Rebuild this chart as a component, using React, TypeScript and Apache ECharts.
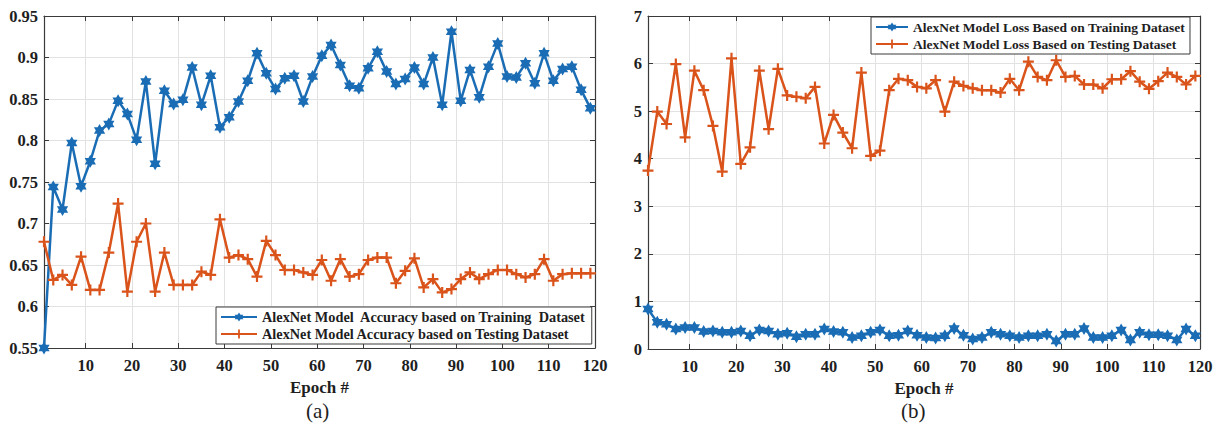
import React, { useEffect, useRef } from "react";
import * as echarts from "echarts";

const epochs = [1, 3, 5, 7, 9, 11, 13, 15, 17, 19, 21, 23, 25, 27, 29, 31, 33, 35, 37, 39, 41, 43, 45, 47, 49, 51, 53, 55, 57, 59, 61, 63, 65, 67, 69, 71, 73, 75, 77, 79, 81, 83, 85, 87, 89, 91, 93, 95, 97, 99, 101, 103, 105, 107, 109, 111, 113, 115, 117, 119];

const accTrain = [0.55, 0.744, 0.717, 0.797, 0.745, 0.775, 0.812, 0.82, 0.848, 0.832, 0.801, 0.871, 0.772, 0.86, 0.844, 0.849, 0.888, 0.843, 0.878, 0.816, 0.828, 0.847, 0.872, 0.905, 0.881, 0.862, 0.875, 0.878, 0.847, 0.877, 0.902, 0.915, 0.891, 0.866, 0.863, 0.887, 0.907, 0.883, 0.868, 0.874, 0.888, 0.868, 0.9, 0.843, 0.931, 0.848, 0.885, 0.852, 0.889, 0.917, 0.877, 0.876, 0.893, 0.869, 0.905, 0.872, 0.886, 0.889, 0.861, 0.839];

const accTest = [0.678, 0.632, 0.638, 0.626, 0.66, 0.62, 0.62, 0.665, 0.724, 0.618, 0.678, 0.7, 0.618, 0.665, 0.626, 0.626, 0.626, 0.642, 0.638, 0.705, 0.659, 0.662, 0.657, 0.636, 0.679, 0.662, 0.644, 0.644, 0.641, 0.638, 0.656, 0.631, 0.657, 0.636, 0.639, 0.656, 0.659, 0.659, 0.628, 0.643, 0.658, 0.623, 0.633, 0.617, 0.621, 0.633, 0.641, 0.633, 0.639, 0.644, 0.644, 0.639, 0.635, 0.639, 0.657, 0.631, 0.639, 0.64, 0.64, 0.64];

const lossTrain = [0.84, 0.56, 0.52, 0.42, 0.45, 0.45, 0.37, 0.38, 0.35, 0.35, 0.38, 0.28, 0.4, 0.38, 0.31, 0.33, 0.26, 0.31, 0.31, 0.42, 0.37, 0.35, 0.24, 0.28, 0.35, 0.4, 0.28, 0.29, 0.38, 0.29, 0.24, 0.23, 0.28, 0.43, 0.29, 0.21, 0.24, 0.35, 0.31, 0.28, 0.24, 0.28, 0.28, 0.31, 0.17, 0.31, 0.31, 0.43, 0.24, 0.24, 0.28, 0.4, 0.19, 0.35, 0.3, 0.3, 0.28, 0.19, 0.42, 0.28];

const lossTest = [3.75, 4.99, 4.73, 5.99, 4.45, 5.85, 5.44, 4.69, 3.73, 6.11, 3.89, 4.24, 5.85, 4.62, 5.89, 5.33, 5.3, 5.27, 5.51, 4.32, 4.92, 4.55, 4.22, 5.81, 4.06, 4.17, 5.44, 5.68, 5.65, 5.51, 5.48, 5.65, 4.99, 5.62, 5.53, 5.48, 5.44, 5.44, 5.39, 5.68, 5.44, 6.04, 5.72, 5.65, 6.07, 5.72, 5.74, 5.56, 5.56, 5.48, 5.67, 5.67, 5.84, 5.62, 5.47, 5.63, 5.81, 5.72, 5.56, 5.74];

const xTicks = [10, 20, 30, 40, 50, 60, 70, 80, 90, 100, 110, 120];

const seriesNames = [
  "AlexNet Model  Accuracy based on Training  Dataset",
  "AlexNet Model Accuracy based on Testing Dataset",
  "AlexNet Model Loss Based on Training Dataset",
  "AlexNet Model Loss Based on Testing Dataset",
];

const FONT = "Liberation Serif";
const BLUE = "#1a6db4";
const ORANGE = "#d9531a";
const FRAME = "#3a3a3a";
const GRIDC = "#e2e2e2";
const TEXT = "#1e1e1e";

const STAR = "path://M0,-10 L2.89,-5 L8.66,-5 L5.77,0 L8.66,5 L2.89,5 L0,10 L-2.89,5 L-8.66,5 L-5.77,0 L-8.66,-5 L-2.89,-5 Z";
const PLUS = "path://M-2,-10 L2,-10 L2,-2 L10,-2 L10,2 L2,2 L2,10 L-2,10 L-2,2 L-10,2 L-10,-2 L-2,-2 Z";

const pair = (ys: number[]) => epochs.map((e, i) => [e, ys[i]]);

export default function App() {
  const ref = useRef<HTMLDivElement>(null);
  useEffect(() => {
    document.body.style.margin = "0";
    if (!ref.current) return;
    const chart = echarts.init(ref.current, null, { renderer: "svg" });

    const grids = [
      { left: 44, top: 16, width: 551, height: 332 },
      { left: 648, top: 16, width: 552, height: 333 },
    ];

    const font = (size: number) => ({ fontFamily: FONT, fontWeight: "bold", fontSize: size, color: TEXT });

    const xBottom = (gi: number) => ({
      type: "value",
      gridIndex: gi,
      position: "bottom",
      min: 1,
      max: 120,
      name: "Epoch #",
      nameLocation: "middle",
      nameGap: 31,
      nameTextStyle: font(17),
      axisLine: { show: true, onZero: false, lineStyle: { color: FRAME, width: 1.2 } },
      axisTick: { show: true, inside: true, length: 5, customValues: xTicks, lineStyle: { color: FRAME } },
      axisLabel: { show: true, customValues: xTicks, margin: 9, ...font(16.5) },
      splitLine: { show: true, lineStyle: { color: GRIDC, width: 1 } },
    });
    const xTop = (gi: number) => ({
      type: "value",
      gridIndex: gi,
      position: "top",
      min: 1,
      max: 120,
      axisLine: { show: true, onZero: false, lineStyle: { color: FRAME, width: 1.2 } },
      axisTick: { show: true, inside: true, length: 5, customValues: xTicks, lineStyle: { color: FRAME } },
      axisLabel: { show: false },
      splitLine: { show: false },
    });
    const yAx = (gi: number, pos: string, min: number, max: number, interval: number, labels: boolean) => ({
      type: "value",
      gridIndex: gi,
      position: pos,
      min,
      max,
      interval,
      axisLine: { show: true, onZero: false, lineStyle: { color: FRAME, width: 1.2 } },
      axisTick: { show: true, inside: true, length: 5, lineStyle: { color: FRAME } },
      axisLabel: { show: labels, margin: 6, ...font(16.5) },
      splitLine: { show: labels, lineStyle: { color: GRIDC, width: 1 } },
    });

    const mk = (name: string, data: number[], xi: number, yi: number, star: boolean) => ({
      name,
      type: "line",
      xAxisIndex: xi,
      yAxisIndex: yi,
      data: pair(data),
      clip: false,
      symbol: star ? STAR : PLUS,
      symbolSize: star ? 13 : 11,
      symbolKeepAspect: true,
      showSymbol: true,
      lineStyle: { color: star ? BLUE : ORANGE, width: 2.5 },
      itemStyle: { color: star ? BLUE : ORANGE, borderWidth: 0 },
    });

    chart.setOption({
      animation: false,
      backgroundColor: "#fff",
      textStyle: { fontFamily: FONT },
      grid: grids,
      xAxis: [xBottom(0), xTop(0), xBottom(1), xTop(1)],
      yAxis: [
        yAx(0, "left", 0.55, 0.95, 0.05, true),
        yAx(0, "right", 0.55, 0.95, 0.05, false),
        yAx(1, "left", 0, 7, 1, true),
        yAx(1, "right", 0, 7, 1, false),
      ],
      legend: [
        {
          data: [seriesNames[0], seriesNames[1]],
          left: 216,
          top: 307,
          orient: "vertical",
          itemGap: 3,
          itemWidth: 36,
          itemHeight: 11,
          padding: [3, 6, 3, 4],
          borderColor: FRAME,
          borderWidth: 1,
          backgroundColor: "#fff",
          textStyle: font(14.3),
        },
        {
          data: [seriesNames[2], seriesNames[3]],
          left: 871,
          top: 17,
          orient: "vertical",
          itemGap: 3,
          itemWidth: 32,
          itemHeight: 11,
          padding: [3, 5, 3, 4],
          borderColor: FRAME,
          borderWidth: 1,
          backgroundColor: "#fff",
          textStyle: font(13.5),
        },
      ],
      series: [
        mk(seriesNames[0], accTrain, 0, 0, true),
        mk(seriesNames[1], accTest, 0, 0, false),
        mk(seriesNames[2], lossTrain, 2, 2, true),
        mk(seriesNames[3], lossTest, 2, 2, false),
      ],
      graphic: [
        { type: "text", left: 306, top: 400, style: { text: "(a)", fontFamily: FONT, fontSize: 21, fill: TEXT } },
        { type: "text", left: 901, top: 400, style: { text: "(b)", fontFamily: FONT, fontSize: 21, fill: TEXT } },
      ],
    });
    return () => chart.dispose();
  }, []);
  return <div ref={ref} style={{ width: 1221, height: 432 }} />;
}
